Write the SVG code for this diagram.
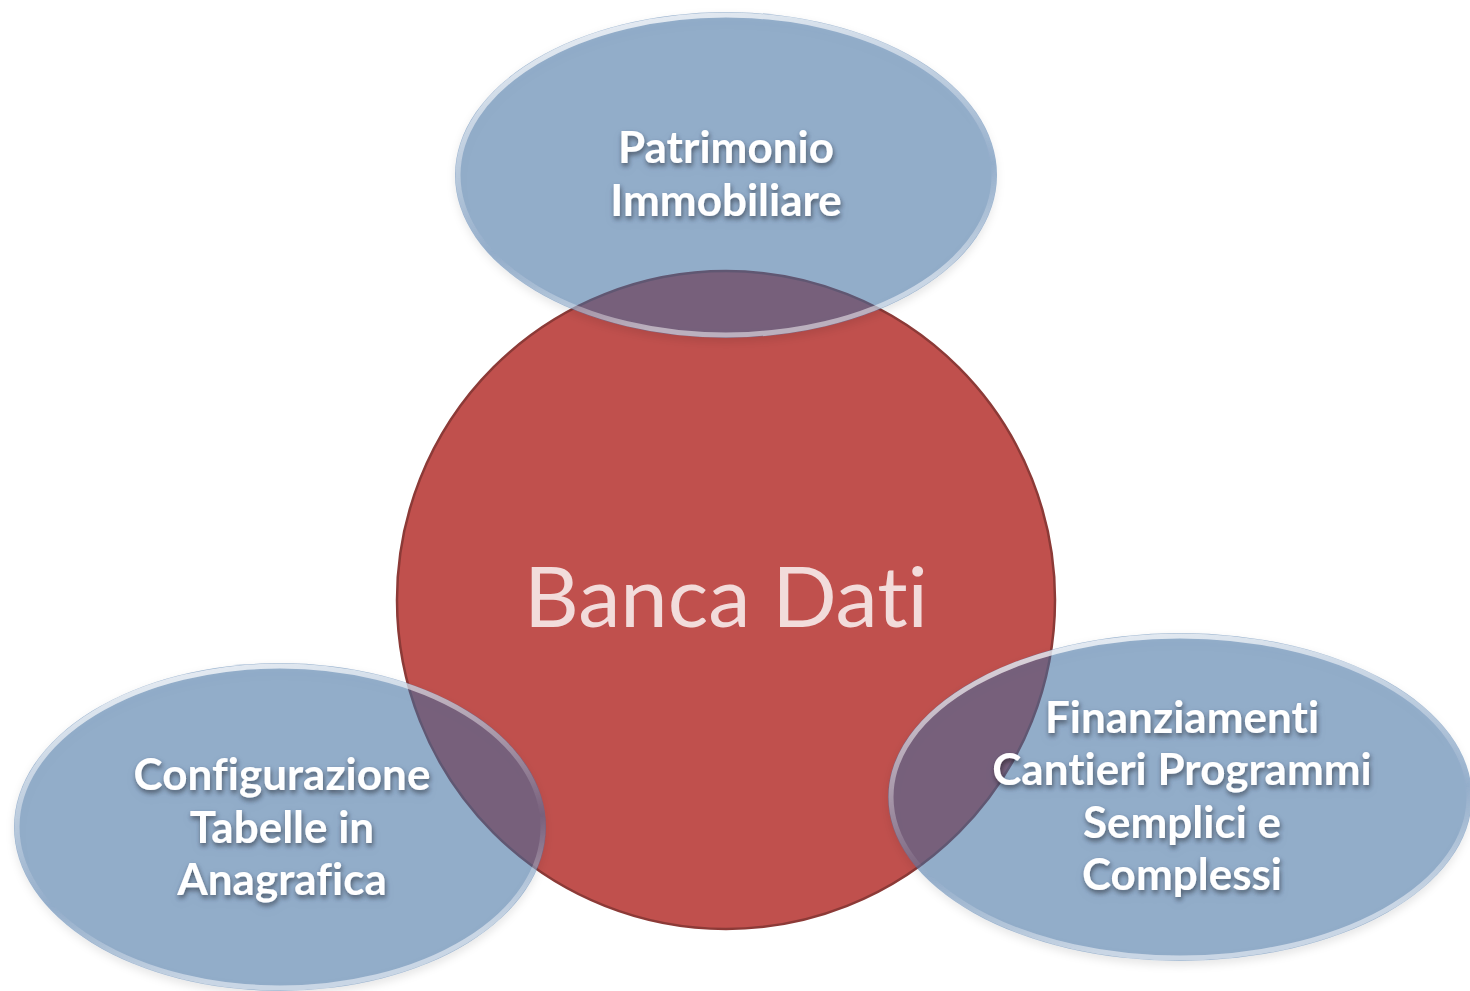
<svg xmlns="http://www.w3.org/2000/svg" width="1470" height="991" viewBox="0 0 1470 991">
<style>
.bubble{fill:#4170A4;fill-opacity:0.53}
.rim{fill:none;stroke:url(#rimGrad);stroke-width:5}
.lbl{font-family:Lato,"Open Sans",sans-serif;font-weight:bold;font-size:44px;fill:#FFFFFF;text-anchor:middle;font-variant-ligatures:none;font-feature-settings:"liga" 0,"dlig" 0;filter:url(#txtShadow)}
.core{font-family:Lato,"Open Sans",sans-serif;font-size:84px;fill:#F2DCDB;text-anchor:middle;font-variant-ligatures:none;font-feature-settings:"liga" 0,"dlig" 0}
</style>
<defs>
<linearGradient id="rimGrad" x1="0" y1="0" x2="0.3" y2="1">
<stop offset="0" stop-color="#FFFFFF" stop-opacity="0.85"/>
<stop offset="0.45" stop-color="#FFFFFF" stop-opacity="0.35"/>
<stop offset="0.7" stop-color="#FFFFFF" stop-opacity="0"/>
<stop offset="1" stop-color="#FFFFFF" stop-opacity="0.5"/>
</linearGradient>
<filter id="txtShadow" x="-20%" y="-40%" width="140%" height="180%">
<feDropShadow dx="1" dy="3" stdDeviation="2.5" flood-color="#000000" flood-opacity="0.45"/>
</filter>
<filter id="bubShadow" x="-10%" y="-10%" width="120%" height="130%">
<feDropShadow dx="0" dy="4" stdDeviation="4" flood-color="#000000" flood-opacity="0.15"/>
</filter>
</defs>
<rect width="1470" height="991" fill="#FFFFFF"/>
<g id="banca-dati">
<circle cx="726" cy="600" r="329" fill="#C0504D" stroke="#8C3A37" stroke-width="2.5"/>
<text class="core" x="726" y="627" textLength="404" lengthAdjust="spacingAndGlyphs">Banca Dati</text>
</g>
<g id="connectors"></g>
<g id="patrimonio" filter="url(#bubShadow)">
<ellipse class="bubble" cx="726" cy="175" rx="271" ry="163"/>
<ellipse class="rim" cx="726" cy="175" rx="268" ry="160"/>
<text class="lbl" x="726" y="163">Patrimonio</text>
<text class="lbl" x="726" y="216">Immobiliare</text>
</g>
<g id="configurazione" filter="url(#bubShadow)">
<ellipse class="bubble" cx="280" cy="827" rx="266" ry="164"/>
<ellipse class="rim" cx="280" cy="827" rx="263" ry="161"/>
<text class="lbl" x="282" y="790">Configurazione</text>
<text class="lbl" x="282" y="843">Tabelle in</text>
<text class="lbl" x="282" y="895">Anagrafica</text>
</g>
<g id="finanziamenti" filter="url(#bubShadow)">
<ellipse class="bubble" cx="1180" cy="797" rx="292" ry="164"/>
<ellipse class="rim" cx="1180" cy="797" rx="289" ry="161"/>
<text class="lbl" x="1182" y="733">Finanziamenti</text>
<text class="lbl" x="1182" y="785">Cantieri Programmi</text>
<text class="lbl" x="1182" y="838">Semplici e</text>
<text class="lbl" x="1182" y="890">Complessi</text>
</g>
</svg>
